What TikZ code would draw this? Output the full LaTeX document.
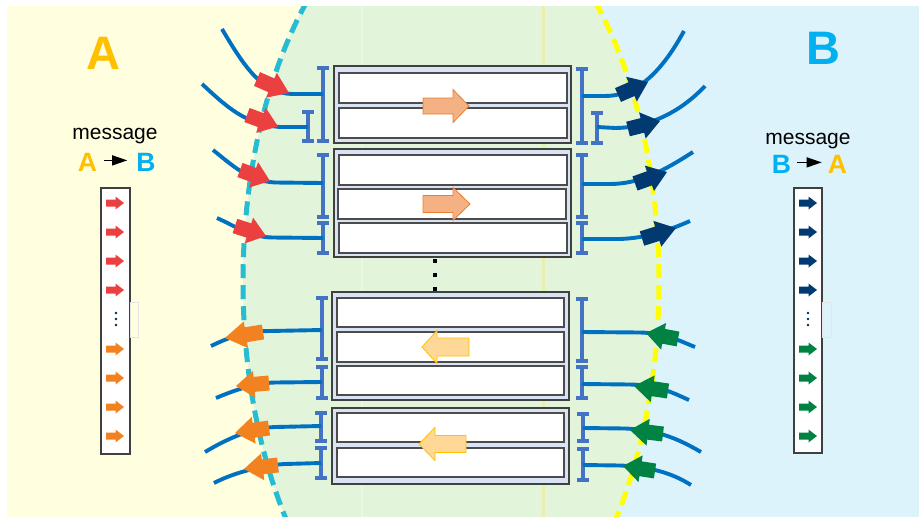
\documentclass[tikz,border=0pt]{standalone}
\usepackage{fontspec}
\setmainfont{Liberation Sans}
\usetikzlibrary{calc,arrows.meta}

\definecolor{bgA}{RGB}{255,255,224}
\definecolor{bgMid}{RGB}{226,244,218}
\definecolor{bgB}{RGB}{221,243,252}
\definecolor{cyanDash}{RGB}{38,188,210}
\definecolor{yellowDash}{RGB}{255,255,0}
\definecolor{wireBlue}{RGB}{0,112,192}
\definecolor{beamBlue}{RGB}{68,114,196}
\definecolor{redA}{RGB}{234,64,64}
\definecolor{orangeA}{RGB}{242,130,32}
\definecolor{navyB}{RGB}{0,58,112}
\definecolor{greenB}{RGB}{0,130,66}
\definecolor{gold}{RGB}{255,192,0}
\definecolor{skyB}{RGB}{0,176,240}
\definecolor{groupFill}{RGB}{218,227,243}
\definecolor{salmon}{RGB}{244,177,131}
\definecolor{salmonEdge}{RGB}{237,125,49}
\definecolor{peach}{RGB}{255,215,150}
\definecolor{peachEdge}{RGB}{255,192,0}

\tikzset{
  wire/.style={draw=wireBlue, line width=3.9pt},
  beam/.style={draw=beamBlue, line width=4.2pt},
  grp/.style={draw=black!75, fill=groupFill, line width=1.3pt, inner sep=0pt, outer sep=0pt, anchor=north west},
  slot/.style={draw=black!70, fill=white, line width=1.3pt, inner sep=0pt, outer sep=0pt, anchor=north west},
  queue/.style={draw=black!75, fill=white, line width=1.2pt, inner sep=0pt, outer sep=0pt, anchor=north west, minimum width=29pt, minimum height=266pt},
  ghost/.style={draw=black!10, line width=0.8pt},
  bigletter/.style={font=\fontsize{47}{47}\selectfont\bfseries, inner sep=0pt, anchor=base},
  midletter/.style={font=\fontsize{26.5}{26.5}\selectfont\bfseries, inner sep=0pt, anchor=base},
  msgtext/.style={font=\fontsize{21}{21}\selectfont, inner sep=0pt, anchor=base},
  dirarrow/.style={line width=1.3pt, -{Triangle[length=15pt,width=10pt]}},
  bound/.style={line width=5pt, dash pattern=on 14pt off 7pt},
}

% I-shaped end stop: name, x, top, bottom, y where the wire joins
\newcommand\ibeam[5]{%
  \draw[beam] (#2-6,#3) -- (#2+6,#3) (#2,#3) -- (#2,#4) (#2-6,#4) -- (#2+6,#4);
  \coordinate (#1) at (#2,#5);
}
% block arrow sitting on a wire: colour, tail point, tip point
\newcommand\fatarrow[3]{%
  \coordinate (fabase) at ($#2!0.45!#3$);
  \fill[#1] ($#2!7.5pt!90:#3$) -- ($(fabase)!7.5pt!90:#3$) -- ($(fabase)!13.5pt!90:#3$)
    -- #3 -- ($(fabase)!13.5pt!-90:#3$) -- ($(fabase)!7.5pt!-90:#3$) -- ($#2!7.5pt!-90:#3$) -- cycle;
}
% small horizontal arrow in a message queue: colour, tail x, tip x, y
\newcommand\qarrow[4]{%
  \fill[#1] (#2,#4-3.5) -- (#3-8.5,#4-3.5) -- (#3-8.5,#4-6.5) -- (#3,#4)
    -- (#3-8.5,#4+6.5) -- (#3-8.5,#4+3.5) -- (#2,#4+3.5) -- cycle;
}
% horizontal block arrow over a group: fill, edge, tail x, head x, tip x, y, shaft half, head half
\newcommand\grouparrow[8]{%
  \filldraw[fill=#1, draw=#2, line width=0.8pt, line join=miter]
    (#3,#6-#7) -- (#4,#6-#7) -- (#4,#6-#8) -- (#5,#6) -- (#4,#6+#8) -- (#4,#6+#7) -- (#3,#6+#7) -- cycle;
}

\begin{document}
\begin{tikzpicture}[x=1pt, y=-1pt]
\useasboundingbox (0,0) rectangle (919,517);

% ---- background: side A, side B and the shared middle
\begin{scope}
  \clip (7,6) rectangle (919,517);
  \fill[bgA] (7,6) rectangle (451,517);
  \fill[bgB] (451,6) rectangle (919,517);
  \fill[bgMid] (451,282) ellipse [x radius=208pt, y radius=389pt];
  \draw[white!25!bgMid, line width=1.2pt] (362,6) -- (362,517);
  \draw[yellow!22!bgMid, line width=3pt] (543,6) -- (543,517);
  \draw[bound, cyanDash] (451,-107) arc[start angle=90, end angle=270, x radius=208pt, y radius=389pt];
  \draw[bound, yellowDash] (451,-107) arc[start angle=90, end angle=-90, x radius=208pt, y radius=389pt];
\end{scope}

% ---- labels of the two sides
\node[bigletter, text=gold] (sideA) at (103.5,69) {A};
\node[bigletter, text=skyB] (sideB) at (823,64) {B};

\node[msgtext] (msgA) at (115,139) {message};
\node[midletter, text=gold] (fromA) at (87.5,171) {A};
\node[midletter, text=skyB] (toB) at (146,171) {B};
\draw[dirarrow] ([xshift=7pt,yshift=1.5pt]fromA.east) -- ([xshift=-9pt,yshift=1.5pt]toB.west);

\node[msgtext] (msgB) at (808,144) {message};
\node[midletter, text=skyB] (fromB) at (781.5,173) {B};
\node[midletter, text=gold] (toA) at (837.5,173) {A};
\draw[dirarrow] ([xshift=6pt,yshift=1.5pt]fromB.east) -- ([xshift=-6pt,yshift=1.5pt]toA.west);

% ---- message queues
\node[queue] (qA) at (101,188) {};
\node[queue, minimum width=28pt, minimum height=265pt] (qB) at (794,188) {};
\draw[ghost] (130,302) rectangle (138,337);
\draw[ghost] (822,302) rectangle (831,337);
\foreach \y in {203,232,261,290} {
  \qarrow{redA}{106}{124}{\y}
  \qarrow{navyB}{799}{817}{\y}
}
\foreach \y in {349,378,407,436} {
  \qarrow{orangeA}{106}{124}{\y}
  \qarrow{greenB}{799}{817}{\y}
}
\foreach \y in {313,319,325} {
  \fill[navyB!70!black] (116,\y) circle (1.3pt);
  \fill[navyB!70!black] (808,\y) circle (1.3pt);
}

% ---- connection groups
\node[grp, minimum width=237pt, minimum height=77pt] (g1) at (334,66) {};
\node[slot, minimum width=228pt, minimum height=30pt] (g1a) at (339,73) {};
\node[slot, minimum width=228pt, minimum height=30pt] (g1b) at (339,108) {};

\node[grp, minimum width=237pt, minimum height=108pt] (g2) at (334,149) {};
\node[slot, minimum width=228pt, minimum height=30pt] (g2a) at (339,155) {};
\node[slot, minimum width=228pt, minimum height=30pt] (g2b) at (338,189) {};
\node[slot, minimum width=228pt, minimum height=30pt] (g2c) at (339,223) {};

\node[grp, minimum width=237pt, minimum height=108pt] (g3) at (332,292) {};
\node[slot, minimum width=227pt, minimum height=29pt] (g3a) at (337,298) {};
\node[slot, minimum width=227pt, minimum height=30pt] (g3b) at (337,332) {};
\node[slot, minimum width=227pt, minimum height=29pt] (g3c) at (337,366) {};

\node[grp, minimum width=237pt, minimum height=76pt] (g4) at (332,408) {};
\node[slot, minimum width=227pt, minimum height=29pt] (g4a) at (337,413) {};
\node[slot, minimum width=227pt, minimum height=29pt] (g4b) at (337,448) {};

\foreach \y in {261,275,289} \fill[black] (433,\y-2) rectangle (437,\y+2);

\grouparrow{salmon}{salmonEdge}{423}{453}{469}{106}{8}{16.5}
\grouparrow{salmon}{salmonEdge}{423}{453}{470}{204}{8.5}{16.5}
\grouparrow{peach}{peachEdge}{469}{437}{422}{347}{9}{16.5}
\grouparrow{peach}{peachEdge}{466}{435}{419}{444}{8.5}{16.5}

% ---- end stops
\ibeam{L1}{323}{68}{141}{94}
\ibeam{L2}{308}{112}{141}{127}
\ibeam{L3}{323}{155}{217}{183}
\ibeam{L4}{323}{223}{253}{238}
\ibeam{L5}{322}{298}{359}{330}
\ibeam{L6}{322}{367}{398}{382}
\ibeam{L7}{321}{413}{441}{426}
\ibeam{L8}{321}{448}{478}{463}
\ibeam{R1}{582}{69}{143}{96}
\ibeam{R2}{597}{113}{143}{127}
\ibeam{R3}{582}{155}{217}{184}
\ibeam{R4}{582}{223}{253}{239}
\ibeam{R5}{582}{299}{361}{332}
\ibeam{R6}{582}{367}{398}{384}
\ibeam{R7}{583}{414}{441}{428}
\ibeam{R8}{583}{449}{480}{465}

% ---- free ends of the wires
\coordinate (oL1) at (222,29);
\coordinate (oL2) at (202,84);
\coordinate (oL3) at (213,150);
\coordinate (oL4) at (217,218);
\coordinate (oL5) at (211,346);
\coordinate (oL6) at (216,398);
\coordinate (oL7) at (205,452);
\coordinate (oL8) at (214,483);
\coordinate (oR1) at (684,31);
\coordinate (oR2) at (705,86);
\coordinate (oR3) at (693,152);
\coordinate (oR4) at (690,221);
\coordinate (oR5) at (695,347);
\coordinate (oR6) at (689,400);
\coordinate (oR7) at (701,452);
\coordinate (oR8) at (691,485);

% ---- wires
\draw[wire] (oL1) .. controls (245,68) and (262,93) .. (292,94) -- (L1);
\draw[wire] (oL2) .. controls (228,108) and (245,124) .. (280,127) -- (L2);
\draw[wire] (oL3) .. controls (232,165) and (248,181) .. (275,182.5) -- (L3);
\draw[wire] (oL4) .. controls (235,226) and (250,237) .. (272,237.5) -- (L4);
\draw[wire] (L5) -- (270,331) .. controls (245,331) and (230,337) .. (oL5);
\draw[wire] (L6) -- (275,382.5) .. controls (255,383) and (235,390) .. (oL6);
\draw[wire] (L7) -- (275,427) .. controls (250,428) and (225,440) .. (oL7);
\draw[wire] (L8) -- (285,464) .. controls (265,465) and (235,472) .. (oL8);
\draw[wire] (R1) -- (605,96) .. controls (635,96) and (660,75) .. (oR1);
\draw[wire] (R2) -- (615,128) .. controls (640,128) and (675,118) .. (oR2);
\draw[wire] (R3) -- (610,184) .. controls (640,184) and (665,170) .. (oR3);
\draw[wire] (R4) -- (620,239) .. controls (645,238) and (665,232) .. (oR4);
\draw[wire] (oR5) .. controls (680,341) and (665,333) .. (640,332.5) -- (R5);
\draw[wire] (oR6) .. controls (675,394) and (660,385) .. (630,384.5) -- (R6);
\draw[wire] (oR7) .. controls (680,440) and (660,430) .. (625,428.5) -- (R7);
\draw[wire] (oR8) .. controls (675,475) and (655,467) .. (620,465.5) -- (R8);

% ---- direction markers on the wires
\fatarrow{redA}{(257,79)}{(289,93)}
\fatarrow{redA}{(247,115)}{(278,126.5)}
\fatarrow{redA}{(240,170)}{(270,181)}
\fatarrow{redA}{(235,226)}{(266,236)}
\fatarrow{orangeA}{(263,332)}{(225,338)}
\fatarrow{orangeA}{(269,383)}{(236,386)}
\fatarrow{orangeA}{(269,428)}{(235,433)}
\fatarrow{orangeA}{(278,465)}{(244,469)}
\fatarrow{navyB}{(618,95)}{(648,82)}
\fatarrow{navyB}{(628,129)}{(660,121)}
\fatarrow{navyB}{(635,183.5)}{(667,172)}
\fatarrow{navyB}{(642,238.5)}{(676,228)}
\fatarrow{greenB}{(678,339)}{(646,333)}
\fatarrow{greenB}{(668,391)}{(634,386)}
\fatarrow{greenB}{(663,434)}{(630,430)}
\fatarrow{greenB}{(655,471)}{(623,466)}
\end{tikzpicture}
\end{document}
